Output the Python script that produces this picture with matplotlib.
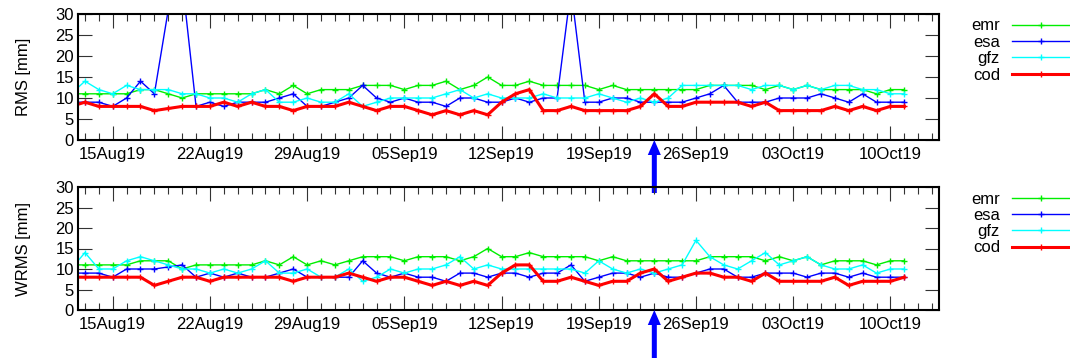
import matplotlib
matplotlib.use('Agg')
import matplotlib.pyplot as plt
import matplotlib.dates as mdates
import pandas as pd

W, H = 1070, 358
DPI = 100
plt.rcParams['font.family'] = ['Liberation Sans', 'DejaVu Sans']
plt.rcParams['font.size'] = 12

# ---------------- data ----------------
dates = pd.date_range('2019-08-12', '2019-10-11', freq='D')
names = ['emr', 'esa', 'gfz', 'cod']

rms_emr = [11,
           11, 11, 11, 11, 12, 12, 11, 10, 11, 11,
           11, 11, 11, 12, 11, 13, 11, 12, 12, 12,
           13, 13, 13, 12, 13, 13, 14, 12, 13, 15,
           13, 13, 14, 13, 13, 13, 13, 12, 13, 12,
           12, 12, 12, 12, 12, 13, 13, 13, 13, 12,
           13, 12, 13, 12, 12, 12, 12, 11, 12, 12]
rms_esa = [9,
           9, 9, 8, 10, 14, 11, 31, 38, 8, 9,
           8, 9, 9, 9, 10, 11, 8, 8, 9, 10,
           13, 10, 9, 10, 9, 9, 8, 10, 10, 9,
           9, 10, 9, 10, 10, 36, 9, 9, 10, 10,
           9, 9, 9, 9, 10, 11, 13, 9, 9, 9,
           10, 10, 10, 11, 10, 9, 11, 9, 9, 9]
rms_gfz = [11,
           14, 12, 11, 13, 12, 12, 12, 11, 11, 10,
           10, 9, 11, 12, 9, 9, 10, 9, 9, 11,
           8, 9, 10, 10, 10, 10, 11, 12, 10, 11,
           10, 10, 10, 11, 10, 10, 10, 11, 10, 9,
           10, 9, 10, 13, 13, 13, 13, 13, 12, 13,
           13, 12, 13, 12, 13, 13, 12, 12, 11, 11]
rms_cod = [8,
           9, 8, 8, 8, 8, 7, 7.5, 8, 8, 8,
           9, 8, 9, 8, 8, 7, 8, 8, 8, 9,
           8, 7, 8, 8, 7, 6, 7, 6, 7, 6,
           9, 11, 12, 7, 7, 8, 7, 7, 7, 7,
           8, 11, 8, 8, 9, 9, 9, 9, 8, 9,
           7, 7, 7, 7, 8, 7, 8, 7, 8, 8]

wrms_emr = [11,
            11, 11, 11, 11, 12, 12, 12, 10, 11, 11,
            11, 11, 11, 12, 11, 13, 11, 12, 11, 12,
            13, 13, 13, 12, 13, 13, 13, 12, 13, 15,
            13, 13, 14, 13, 13, 13, 13, 12, 13, 12,
            12, 12, 12, 12, 12, 13, 13, 13, 13, 12,
            13, 12, 13, 11, 12, 12, 12, 11, 12, 12]
wrms_esa = [9,
            9, 9, 8, 10, 10, 10, 10.5, 11, 8, 9,
            8, 9, 8, 8, 9, 10, 8, 8, 8, 8,
            12, 9, 8, 9, 8, 8, 7, 9, 9, 8,
            9, 9, 8, 9, 9, 11, 7, 8, 9, 9,
            8, 9, 8, 8, 9, 10, 10, 8, 8, 9,
            9, 9, 8, 9, 9, 8, 9, 8, 8, 8]
wrms_gfz = [10,
            14, 10, 10, 12, 13, 12, 11, 10, 10, 9,
            10, 9, 10, 12, 9, 9, 10, 8, 8, 10,
            7, 8, 10, 9, 10, 10, 11, 13, 10, 11,
            10, 10, 10, 10, 10, 10, 9, 12, 10, 9,
            10, 9, 10, 11, 17, 13, 11, 10, 12, 14,
            11, 12, 13, 11, 10, 10, 11, 9, 10, 10]
wrms_cod = [8,
            8, 8, 8, 8, 8, 6, 7, 8, 8, 7,
            8, 8, 8, 8, 8, 7, 8, 8, 8, 9,
            8, 7, 8, 8, 7, 6, 7, 6, 7, 6,
            9, 11, 11, 7, 7, 8, 7, 6, 7, 7,
            9, 10, 7, 8, 9, 9, 8, 8, 7, 9,
            7, 7, 7, 7, 8, 6, 7, 7, 7, 8]

panels = [
    ('RMS [mm]', [rms_emr, rms_esa, rms_gfz, rms_cod]),
    ('WRMS [mm]', [wrms_emr, wrms_esa, wrms_gfz, wrms_cod]),
]
yticks = [0, 5, 10, 15, 20, 25, 30]
event_date = pd.Timestamp('2019-09-23')
xlim = (pd.Timestamp('2019-08-12 12:00'), pd.Timestamp('2019-10-13 12:00'))

# ---------------- styles ----------------
colors = ['#00ee00', '#0000ff', '#00ffff', '#ff0000']
widths = [1.0, 1.0, 1.0, 2.2]

fig = plt.figure(figsize=(W / DPI, H / DPI), dpi=DPI)

# axes boxes in pixels: (left, top, right, bottom)
boxes = [(78, 14, 939, 140), (78, 187, 939, 310)]

for (ylabel, vals), (l, t, r, b) in zip(panels, boxes):
    ax = fig.add_axes([l / W, 1 - b / H, (r - l) / W, (b - t) / H])
    ax.set_facecolor('none')
    for name, v, c, lw in zip(names, vals, colors, widths):
        ax.plot(dates, v, color=c, lw=lw, marker='+', ms=4.5, mew=1.0,
                label=name)
    ax.set_xlim(*xlim)
    ax.set_ylim(0, 30)
    ax.set_yticks(yticks)
    ax.xaxis.set_major_locator(mdates.WeekdayLocator(byweekday=mdates.TH))
    ax.xaxis.set_minor_locator(mdates.DayLocator())
    ax.xaxis.set_major_formatter(mdates.DateFormatter('%d%b%y'))
    ax.tick_params(which='both', direction='in', top=True, right=True,
                   width=0.8, color='#333333')
    ax.tick_params(which='major', length=10, labelsize=12)
    ax.tick_params(axis='x', which='major', pad=5)
    ax.tick_params(axis='y', which='major', pad=3)
    ax.tick_params(which='minor', length=4.7)
    for s in ax.spines.values():
        s.set_linewidth(1.5)
    ax.set_ylabel(ylabel, fontsize=12)
    ax.yaxis.set_label_coords(-(78 - 31) / (r - l), 0.5)

    leg = ax.legend(loc='upper right', bbox_to_anchor=(1.0, 1 - (t + 4.5) / H),
                    bbox_transform=fig.transFigure, frameon=False,
                    markerfirst=False, handlelength=3.5, handletextpad=0.7,
                    labelspacing=0.08, borderpad=0, borderaxespad=0,
                    fontsize=12)

    ax.annotate('', xy=(event_date, 0), xycoords=('data', 'axes fraction'),
                xytext=(0, -53), textcoords='offset pixels',
                arrowprops=dict(color='#0000ff', width=3.6, headwidth=9.4,
                                headlength=10.8, shrink=0, lw=0),
                annotation_clip=False, zorder=10)

fig.savefig('out.png', dpi=DPI)
